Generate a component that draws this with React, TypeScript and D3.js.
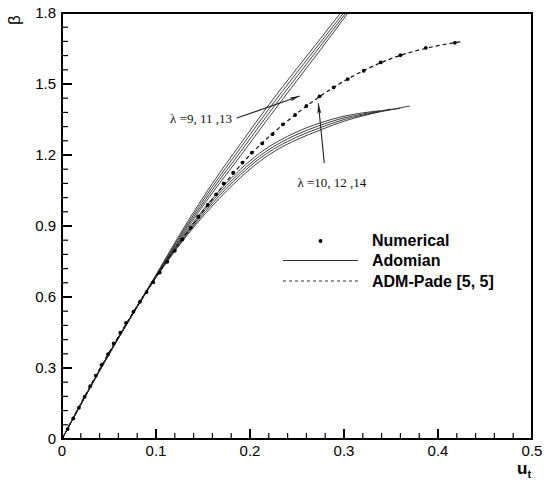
import React from 'react';
import * as d3 from 'd3';

const W = 544;
const H = 484;

const xTicks = [0, 0.1, 0.2, 0.3, 0.4, 0.5];
const xTickLabels = ['0', '0.1', '0.2', '0.3', '0.4', '0.5'];
const yTicks = [0, 0.3, 0.6, 0.9, 1.2, 1.5, 1.8];
const yTickLabels = ['0', '0.3', '0.6', '0.9', '1.2', '1.5', '1.8'];

// Numerical solution (dots)
const numU = [0, 0.006, 0.012, 0.018, 0.024, 0.030, 0.036, 0.042, 0.049, 0.055, 0.062, 0.068, 0.076, 0.083, 0.090, 0.097, 0.104, 0.112, 0.120, 0.128, 0.137, 0.145, 0.155, 0.164, 0.172, 0.182, 0.192, 0.202, 0.213, 0.224, 0.235, 0.248, 0.260, 0.274, 0.289, 0.304, 0.321, 0.339, 0.360, 0.387, 0.418];
const numB = [0, 0.042, 0.087, 0.132, 0.178, 0.223, 0.268, 0.313, 0.358, 0.404, 0.449, 0.491, 0.538, 0.580, 0.621, 0.662, 0.703, 0.749, 0.795, 0.843, 0.893, 0.939, 0.989, 1.034, 1.080, 1.125, 1.168, 1.210, 1.249, 1.288, 1.329, 1.369, 1.407, 1.448, 1.486, 1.521, 1.556, 1.591, 1.622, 1.653, 1.674];

// ADM-Pade [5,5] (dashed)
const padeU = [0, 0.05, 0.1, 0.15, 0.2, 0.25, 0.3, 0.35, 0.4, 0.425];
const padeB = [0, 0.365, 0.685, 0.963, 1.2, 1.376, 1.512, 1.607, 1.662, 1.679];

// Adomian, lambda = 9, 11, 13 (diverging upward)
const adomOddU = [0, 0.05, 0.1, 0.13, 0.16, 0.19, 0.22, 0.25, 0.275, 0.30, 0.315];
const adomOddB1 = [0, 0.362, 0.694, 0.895, 1.080, 1.248, 1.412, 1.566, 1.692, 1.818, 1.89];
const adomOddB2 = [0, 0.361, 0.691, 0.886, 1.066, 1.231, 1.394, 1.549, 1.676, 1.803, 1.88];
const adomOddB3 = [0, 0.360, 0.688, 0.878, 1.053, 1.214, 1.376, 1.532, 1.661, 1.790, 1.87];
const adomOddB4 = [0, 0.359, 0.685, 0.870, 1.040, 1.197, 1.358, 1.515, 1.645, 1.778, 1.86];

// Adomian, lambda = 10, 12, 14 (bending down)
const adomEvenU1 = [0, 0.05, 0.1, 0.13, 0.16, 0.19, 0.21, 0.23, 0.25, 0.275, 0.30, 0.32, 0.338];
const adomEvenB1 = [0, 0.36, 0.688, 0.862, 1.016, 1.140, 1.207, 1.258, 1.298, 1.336, 1.364, 1.378, 1.387];
const adomEvenU2 = [0, 0.05, 0.1, 0.13, 0.16, 0.19, 0.21, 0.23, 0.25, 0.275, 0.30, 0.32, 0.34, 0.35];
const adomEvenB2 = [0, 0.359, 0.686, 0.856, 1.006, 1.128, 1.195, 1.247, 1.287, 1.326, 1.357, 1.373, 1.387, 1.394];
const adomEvenU3 = [0, 0.05, 0.1, 0.13, 0.16, 0.19, 0.21, 0.23, 0.25, 0.275, 0.30, 0.32, 0.34, 0.36];
const adomEvenB3 = [0, 0.358, 0.684, 0.850, 0.996, 1.117, 1.184, 1.236, 1.276, 1.316, 1.350, 1.369, 1.385, 1.397];
const adomEvenU4 = [0, 0.05, 0.1, 0.13, 0.16, 0.19, 0.21, 0.23, 0.25, 0.275, 0.30, 0.32, 0.34, 0.355, 0.37];
const adomEvenB4 = [0, 0.357, 0.682, 0.845, 0.985, 1.105, 1.172, 1.225, 1.265, 1.306, 1.343, 1.365, 1.384, 1.396, 1.407];

// Annotations (data coordinates)
const annOddText = 'λ =9, 11 ,13';
const annOddPos = [0.115, 1.335];
const annOddArrow = [[0.186, 1.356], [0.253, 1.449]];
const annEvenText = 'λ =10, 12 ,14';
const annEvenPos = [0.2505, 1.066];
const annEvenArrow = [[0.279, 1.166], [0.2727, 1.418]];

const legendLabels = ['Numerical', 'Adomian', 'ADM-Pade [5, 5]'];

const M = { left: 62, right: 532, top: 13, bottom: 439 };

export default function App() {
  const x = d3.scaleLinear().domain([0, 0.5]).range([M.left, M.right]);
  const y = d3.scaleLinear().domain([0, 1.8]).range([M.bottom, M.top]);
  const line = d3
    .line<[number, number]>()
    .x((d) => x(d[0]))
    .y((d) => y(d[1]))
    .curve(d3.curveMonotoneX);
  const zip = (u: number[], b: number[]) => u.map((v, i) => [v, b[i]] as [number, number]);

  const adomLines = [
    zip(adomOddU, adomOddB1),
    zip(adomOddU, adomOddB2),
    zip(adomOddU, adomOddB3),
    zip(adomOddU, adomOddB4),
    zip(adomEvenU1, adomEvenB1),
    zip(adomEvenU2, adomEvenB2),
    zip(adomEvenU3, adomEvenB3),
    zip(adomEvenU4, adomEvenB4),
  ];

  const xMinor = d3.range(0, 0.5001, 0.02).filter((v) => Math.abs(v * 10 - Math.round(v * 10)) > 1e-6);
  const yMinor = d3.range(0, 1.8001, 0.06).filter((v) => Math.abs(v / 0.3 - Math.round(v / 0.3)) > 1e-6);

  const sans = "'Liberation Sans', Arial, sans-serif";
  const serif = "'Liberation Serif', 'Times New Roman', serif";

  const lx0 = 283, lx1 = 358, ly0 = 240, ldy = 20.5, ltx = 372;

  return (
    <svg width={W} height={H} style={{ position: 'absolute', left: 0, top: 0, background: '#fff' }}>
      <defs>
        <clipPath id="plot">
          <rect x={M.left} y={M.top} width={M.right - M.left} height={M.bottom - M.top} />
        </clipPath>
        <marker id="ah" viewBox="0 0 12 6" refX={12} refY={3} markerWidth={12} markerHeight={5} orient="auto" markerUnits="userSpaceOnUse">
          <path d="M0,0.6 L12,3 L0,5.4 L2,3 Z" fill="#222" />
        </marker>
      </defs>

      <g clipPath="url(#plot)">
        {adomLines.map((pts, i) => (
          <path key={i} d={line(pts) || ''} fill="none" stroke="#2a2a2a" strokeWidth={0.9} />
        ))}
        <path d={line(zip(padeU, padeB)) || ''} fill="none" stroke="#111" strokeWidth={1.2} strokeDasharray="4,3" />
        {numU.map((u, i) => (
          <circle key={i} cx={x(u)} cy={y(numB[i])} r={1.9} fill="#000" />
        ))}
      </g>

      {/* annotations */}
      <text x={x(annOddPos[0])} y={y(annOddPos[1])} fontFamily={serif} fontSize={13} fill="#111">{annOddText}</text>
      <line x1={x(annOddArrow[0][0])} y1={y(annOddArrow[0][1])} x2={x(annOddArrow[1][0])} y2={y(annOddArrow[1][1])} stroke="#222" strokeWidth={1.1} markerEnd="url(#ah)" />
      <text x={x(annEvenPos[0])} y={y(annEvenPos[1])} fontFamily={serif} fontSize={13} fill="#111">{annEvenText}</text>
      <line x1={x(annEvenArrow[0][0])} y1={y(annEvenArrow[0][1])} x2={x(annEvenArrow[1][0])} y2={y(annEvenArrow[1][1])} stroke="#222" strokeWidth={1.1} markerEnd="url(#ah)" />

      {/* legend */}
      <circle cx={(lx0 + lx1) / 2} cy={ly0 + 1} r={1.9} fill="#000" />
      <line x1={lx0} x2={lx1} y1={ly0 + ldy} y2={ly0 + ldy} stroke="#333" strokeWidth={1.2} />
      <line x1={lx0} x2={lx1} y1={ly0 + 2 * ldy} y2={ly0 + 2 * ldy} stroke="#333" strokeWidth={1.2} strokeDasharray="3,3" />
      {legendLabels.map((t, i) => (
        <text key={t} x={ltx} y={ly0 + i * ldy} dy="0.36em" fontFamily={sans} fontWeight="bold" fontSize={16} fill="#000">{t}</text>
      ))}

      {/* ticks */}
      {xTicks.map((v) => (
        <line key={'xt' + v} x1={x(v)} x2={x(v)} y1={M.bottom} y2={M.bottom - 10} stroke="#000" strokeWidth={2} />
      ))}
      {xMinor.map((v) => (
        <line key={'xm' + v} x1={x(v)} x2={x(v)} y1={M.bottom} y2={M.bottom - 6} stroke="#000" strokeWidth={1.2} />
      ))}
      {yTicks.map((v) => (
        <line key={'yt' + v} x1={M.left} x2={M.left + 10} y1={y(v)} y2={y(v)} stroke="#000" strokeWidth={2} />
      ))}
      {yMinor.map((v) => (
        <line key={'ym' + v} x1={M.left} x2={M.left + 6} y1={y(v)} y2={y(v)} stroke="#000" strokeWidth={1.2} />
      ))}

      {/* frame */}
      <rect x={M.left} y={M.top} width={M.right - M.left} height={M.bottom - M.top} fill="none" stroke="#000" strokeWidth={2} />

      {/* tick labels */}
      {xTicks.map((v, i) => (
        <text key={'xl' + v} x={x(v)} y={M.bottom + 12} dy="0.36em" textAnchor="middle" fontFamily={sans} fontSize={15} fill="#000">{xTickLabels[i]}</text>
      ))}
      {yTicks.map((v, i) => (
        <text key={'yl' + v} x={M.left - 6} y={y(v)} dy="0.36em" textAnchor="end" fontFamily={sans} fontSize={15} fill="#000">{yTickLabels[i]}</text>
      ))}

      {/* axis titles */}
      <text transform="translate(20,20) rotate(-90)" textAnchor="middle" fontFamily={sans} fontSize={17} fill="#000">β</text>
      <text x={517} y={474} fontFamily={sans} fontWeight="bold" fontSize={17} fill="#000">u<tspan fontSize={11} dy={4}>t</tspan></text>
    </svg>
  );
}
